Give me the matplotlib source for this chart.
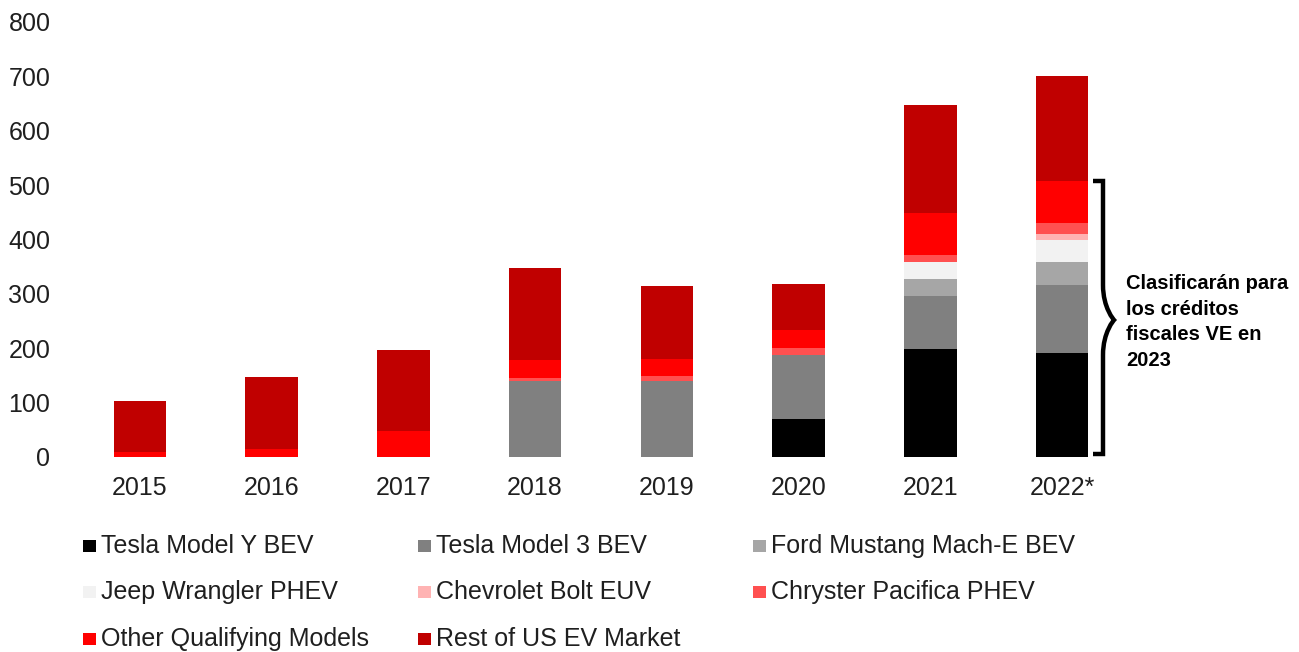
import matplotlib
matplotlib.use("Agg")
import matplotlib.pyplot as plt
from matplotlib.patches import Rectangle
from matplotlib.path import Path
from matplotlib.patches import PathPatch

plt.rcParams['font.family'] = ['Liberation Sans', 'DejaVu Sans']

years = ["2015", "2016", "2017", "2018", "2019", "2020", "2021", "2022*"]
series_names = ["Tesla Model Y BEV", "Tesla Model 3 BEV", "Ford Mustang Mach-E BEV",
                "Jeep Wrangler PHEV", "Chevrolet Bolt EUV", "Chryster Pacifica PHEV",
                "Other Qualifying Models", "Rest of US EV Market"]
tesla_y = [0, 0, 0, 0, 0, 70, 199, 192]
tesla_3 = [0, 0, 0, 140, 140, 118, 98, 125]
ford_mach_e = [0, 0, 0, 0, 0, 0, 31, 41]
jeep_wrangler = [0, 0, 0, 0, 0, 0, 30, 41]
chevy_bolt = [0, 0, 0, 0, 0, 0, 0, 11]
chrysler_pacifica = [0, 0, 0, 6, 9, 12, 13, 20]
other_qualifying = [10, 15, 48, 33, 31, 34, 77, 78]
rest_market = [93, 133, 149, 169, 134, 85, 199, 192]
yticks = [0, 100, 200, 300, 400, 500, 600, 700, 800]
annotation = "Clasificarán para\nlos créditos\nfiscales VE en\n2023"

colors = ["#000000", "#808080", "#A6A6A6", "#F2F2F2", "#FFB3B3", "#FF5050", "#FF0000", "#C00000"]
series = [tesla_y, tesla_3, ford_mach_e, jeep_wrangler, chevy_bolt,
          chrysler_pacifica, other_qualifying, rest_market]

TXT = '#1f1f1f'
W, H = 1299, 652
fig = plt.figure(figsize=(W / 100, H / 100), dpi=100)

def fx(px):
    return px / W

def fy(py):
    return 1 - py / H

ax = fig.add_axes([fx(74), fy(457), fx(1128) - fx(74), fy(22) - fy(457)])
x = list(range(len(years)))
bottom = [0] * len(years)
for vals, col, name in zip(series, colors, series_names):
    ax.bar(x, vals, width=0.4, bottom=bottom, color=col, label=name, linewidth=0)
    bottom = [b + v for b, v in zip(bottom, vals)]

ax.set_xlim(-0.5, len(years) - 0.5)
ax.set_ylim(0, 800)
ax.set_yticks(yticks)
ax.set_xticks(x)
ax.set_xticklabels(years)
for s in ax.spines.values():
    s.set_visible(False)
ax.tick_params(axis='both', length=0, labelsize=18, labelcolor=TXT)
ax.tick_params(axis='y', pad=17)
ax.tick_params(axis='x', pad=14)

# legend (manual grid)
sq_x = [83, 418, 753]
row_y = [546, 592, 639]
for i, (name, col) in enumerate(zip(series_names, colors)):
    r, c = divmod(i, 3)
    sqw, sqh = 13, 12
    fig.patches.append(Rectangle((fx(sq_x[c]), fy(row_y[r] + sqh / 2)), sqw / W, sqh / H,
                                 transform=fig.transFigure, facecolor=col, edgecolor='none'))
    fig.text(fx(sq_x[c] + 18), fy(row_y[r]), name, fontsize=18, color=TXT,
             va='center', ha='left')

# bracket
verts = [(1093, 181), (1103, 181), (1103, 285),
         (1103, 308), (1114, 320), (1114, 320),
         (1114, 320), (1103, 332), (1103, 355),
         (1103, 454), (1093, 454)]
codes = [Path.MOVETO, Path.LINETO, Path.LINETO,
         Path.CURVE4, Path.CURVE4, Path.CURVE4,
         Path.CURVE4, Path.CURVE4, Path.CURVE4,
         Path.LINETO, Path.LINETO]
path = Path([(fx(a), fy(b)) for a, b in verts], codes)
fig.patches.append(PathPatch(path, transform=fig.transFigure, facecolor='none',
                             edgecolor='black', linewidth=3.2, capstyle='butt', joinstyle='miter'))

fig.text(fx(1126), fy(322), annotation, fontsize=14.5, fontweight='bold', color='black',
         va='center', ha='left', linespacing=1.45)

fig.savefig("out.png", dpi=100)
